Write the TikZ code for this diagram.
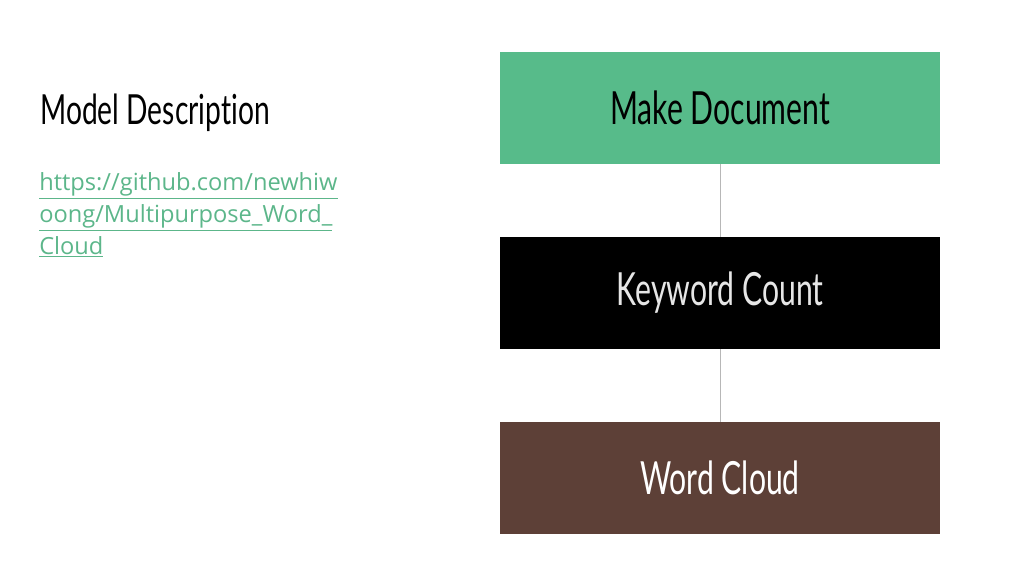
\documentclass[tikz,border=0pt]{standalone}
\usepackage{fontspec}
\usepackage{xcolor}
\usepackage{tikz}
\usetikzlibrary{positioning}
\setmainfont{Open Sans}
\newfontfamily\headfont[FakeStretch=0.68,Ligatures=NoCommon]{Lato}
\newfontfamily\boxfont[FakeStretch=0.66,Ligatures=NoCommon]{Lato}
\definecolor{boxgreen}{HTML}{57BB8A}
\definecolor{linkgreen}{HTML}{5CB68A}
\definecolor{boxbrown}{HTML}{5D4037}
\definecolor{linkgray}{HTML}{B7B7B7}
\definecolor{keytext}{HTML}{E6E6E6}

\begin{document}
\begin{tikzpicture}[x=0.025cm,y=-0.025cm,
    stage/.style={rectangle,minimum width=11cm,minimum height=2.8cm,inner sep=0pt,
      font=\boxfont\fontsize{32.5}{36}\selectfont},
    joint/.style={draw=linkgray,line width=0.6pt}]
    \useasboundingbox (0,0) rectangle (1031,573);
    % left column
    \node[anchor=base west,inner sep=0pt,font=\headfont\fontsize{29.5}{34}\selectfont] (title) at (40,124) {Model Description};
    \node[anchor=north west,inner sep=0pt,align=left,text=linkgreen,
      font=\fontsize{16.8}{22.8}\selectfont] (link) at (39,172)
      {\underline{https://github.com/newhiw}\\
       \underline{oong/Multipurpose\_Word\_}\\
       \underline{Cloud}};
    % flow boxes
    \node[stage,fill=boxgreen,text=black] (makedoc) at (720,108) {Make Document};
    \node[stage,fill=black,text=keytext] (count) at (720,293) {Keyword Count};
    \node[stage,fill=boxbrown,text=white] (cloud) at (720,478) {Word Cloud};
    \draw[joint] (makedoc) -- (count);
    \draw[joint] (count) -- (cloud);
\end{tikzpicture}
\end{document}
